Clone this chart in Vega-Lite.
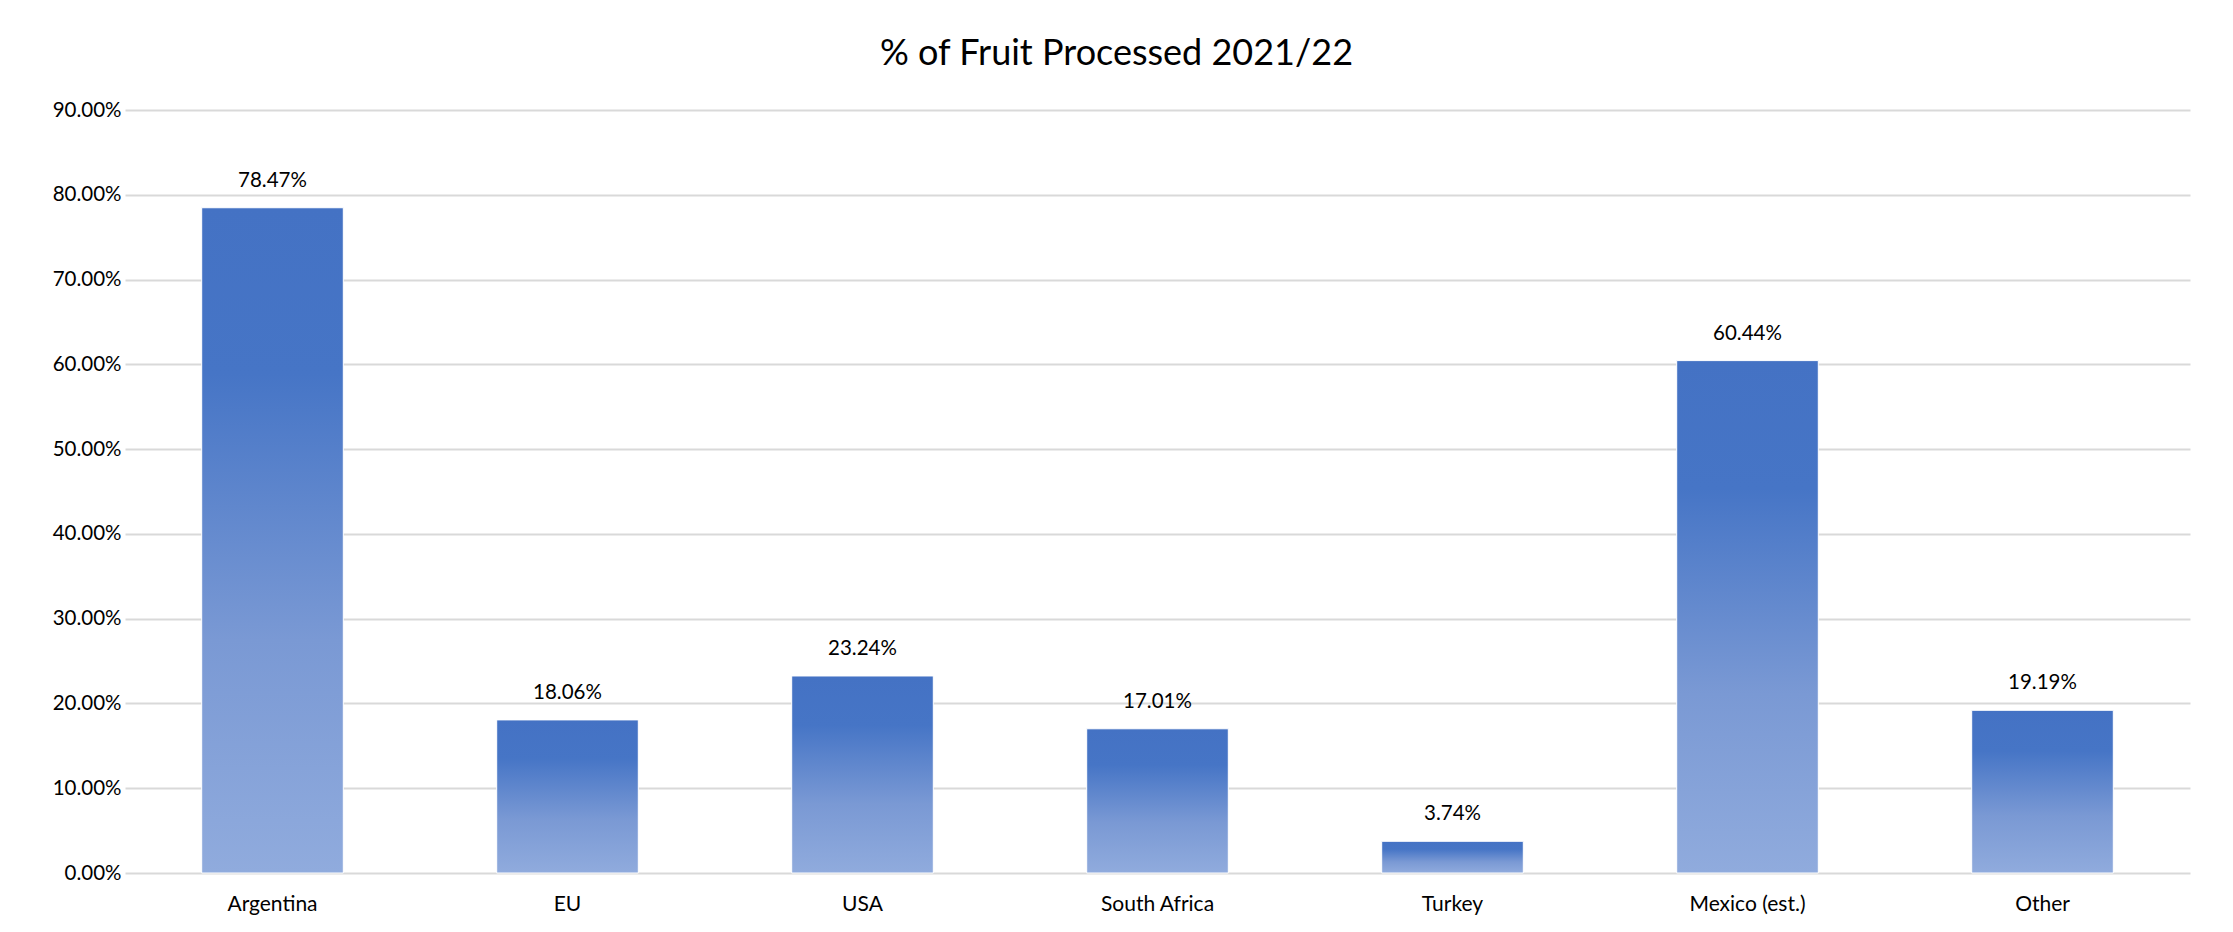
{
  "$schema": "https://vega.github.io/schema/vega-lite/v6.json",
  "autosize": "none",
  "width": 2065,
  "height": 763,
  "padding": {"left": 125, "top": 110, "right": 43, "bottom": 59},
  "background": "#ffffff",
  "title": {
    "text": "% of Fruit Processed 2021/22",
    "font": "Lato",
    "fontSize": 36,
    "fontWeight": "normal",
    "color": "#000000",
    "anchor": "middle",
    "dx": -41,
    "offset": 27
  },
  "data": {
    "values": [
      {"region": "Argentina", "share": 0.7847},
      {"region": "EU", "share": 0.1806},
      {"region": "USA", "share": 0.2324},
      {"region": "South Africa", "share": 0.1701},
      {"region": "Turkey", "share": 0.0374},
      {"region": "Mexico (est.)", "share": 0.6044},
      {"region": "Other", "share": 0.1919}
    ]
  },
  "encoding": {
    "x": {
      "field": "region",
      "type": "nominal",
      "sort": null,
      "title": null,
      "scale": {"paddingInner": 0.52, "paddingOuter": 0.26},
      "axis": {
        "labelAngle": 0,
        "labelFont": "Lato",
        "labelFontSize": 21,
        "labelColor": "#000000",
        "labelPadding": 20,
        "ticks": false,
        "domain": false
      }
    },
    "y": {
      "field": "share",
      "type": "quantitative",
      "title": null,
      "scale": {"domain": [0, 0.9], "nice": false},
      "axis": {
        "values": [0, 0.1, 0.2, 0.3, 0.4, 0.5, 0.6, 0.7, 0.8, 0.9],
        "format": ".2%",
        "labelFont": "Lato",
        "labelFontSize": 20.5,
        "labelColor": "#000000",
        "labelPadding": 4,
        "ticks": false,
        "domain": false,
        "gridColor": "#D9D9D9",
        "gridWidth": 1.8
      }
    }
  },
  "layer": [
    {
      "mark": {
        "type": "bar",
        "color": {
          "gradient": "linear",
          "x1": 0, "y1": 0, "x2": 0, "y2": 1,
          "stops": [
            {"offset": 0, "color": "#4472C4"},
            {"offset": 0.25, "color": "#4675C6"},
            {"offset": 0.65, "color": "#7A99D4"},
            {"offset": 1, "color": "#90ABDD"}
          ]
        },
        "stroke": "#ffffff",
        "strokeWidth": 1
      }
    },
    {
      "mark": {
        "type": "text",
        "font": "Lato",
        "fontSize": 20.5,
        "color": "#000000",
        "baseline": "middle",
        "dy": -27
      },
      "encoding": {
        "text": {"field": "share", "type": "quantitative", "format": ".2%"}
      }
    }
  ],
  "config": {
    "view": {"stroke": null}
  }
}
